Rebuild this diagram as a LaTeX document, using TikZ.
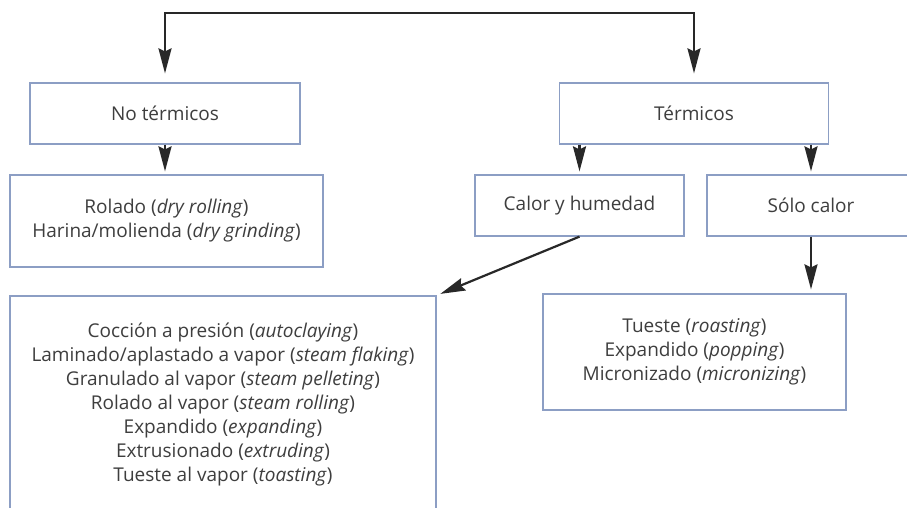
\documentclass[tikz,border=0pt]{standalone}
\usepackage{fontspec}
\setmainfont{Open Sans}
\usetikzlibrary{arrows.meta}
\definecolor{boxc}{RGB}{140,158,196}
\definecolor{txtc}{RGB}{62,62,62}
\definecolor{arrc}{RGB}{40,40,40}
\tikzset{
  box/.style={draw=boxc, line width=1.2pt, fill=white, text=txtc, align=center,
    inner sep=0pt, font=\fontsize{19}{24}\selectfont},
  tip/.tip={Stealth[length=25pt,width=13pt,inset=3pt]},
  arr/.style={draw=arrc, line width=2.2pt, -tip},
  arrboth/.style={draw=arrc, line width=2.2pt, tip-tip}
}
\begin{document}
\begin{tikzpicture}[x=1pt,y=-1pt]
\useasboundingbox (0,0) rectangle (907,507);
\fill[white] (0,0) rectangle (907,507);
\clip (0,0) rectangle (907,507);
\node[box, minimum width=270pt, minimum height=61pt] (not) at (165,113.5) {No térmicos};
\node[box, minimum width=269pt, minimum height=61pt] (ter) at (694,113.5) {Térmicos};
\node[box, minimum width=313pt, minimum height=92pt] (rol) at (166.5,221)
  {Rolado (\textit{dry rolling})\\Harina/molienda (\textit{dry grinding})};
\node[box, minimum width=209pt, minimum height=61pt] (cyh) at (579.5,205.5) {Calor y humedad};
\node[box, minimum width=208pt, minimum height=61pt] (sol) at (811,205.5) {Sólo calor};
\node[box, minimum width=426pt, minimum height=216pt] (big) at (223,404)
  {Cocción a presión (\textit{autoclaying})\\
   Laminado/aplastado a vapor (\textit{steam flaking})\\
   Granulado al vapor (\textit{steam pelleting})\\
   Rolado al vapor (\textit{steam rolling})\\
   Expandido (\textit{expanding})\\
   Extrusionado (\textit{extruding})\\
   Tueste al vapor (\textit{toasting})};
\node[box, minimum width=303pt, minimum height=116pt] (tue) at (694.5,352)
  {Tueste (\textit{roasting})\\Expandido (\textit{popping})\\Micronizado (\textit{micronizing})};
\coordinate (topmid) at (430,13);
\draw[arrboth, shorten <=9pt, shorten >=9pt] (not.north) |- (topmid) -| (ter.north);
\draw[arr, shorten >=3pt] (not.south) -- (not.south |- rol.north);
\draw[arr, shorten >=3pt] (cyh.north |- ter.south) -- (cyh.north);
\draw[arr, shorten >=3pt] (sol.north |- ter.south) -- (sol.north);
\draw[arr, shorten >=4pt] (cyh.south) -- (big.north east);
\draw[arr, shorten >=4pt] (sol.south) -- (sol.south |- tue.north);
\end{tikzpicture}
\end{document}
